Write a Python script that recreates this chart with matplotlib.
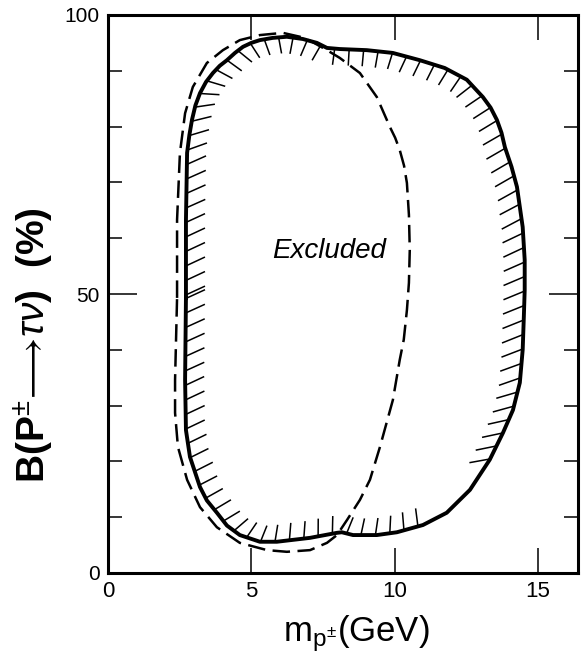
import numpy as np
import matplotlib
matplotlib.use("Agg")
import matplotlib.pyplot as plt

# ---- data (x: GeV, y: %) ----
solid_x = [2.72, 2.72, 2.76, 2.84, 2.93, 3.05, 3.21, 3.42, 3.66, 3.90, 4.15, 4.43,
           4.71, 5.00, 5.30, 5.75, 6.24, 6.80, 7.29, 7.64, 8.09, 9.03, 9.94, 10.88,
           11.75, 12.52, 13.08, 13.35, 13.57, 13.73, 13.85, 14.08, 14.27, 14.47,
           14.54, 14.54, 14.51, 14.47, 14.37, 14.13, 13.78, 13.32, 12.63, 11.82,
           10.99, 10.08, 9.38, 8.55, 8.16, 7.99, 7.05, 5.89, 5.30, 4.60, 4.15, 3.80,
           3.45, 3.21, 2.86, 2.72, 2.69]
solid_y = [49.3, 63.3, 75.3, 78.5, 81.2, 83.8, 86.0, 88.0, 89.6, 90.9, 91.9, 93.2,
           94.3, 95.0, 95.5, 95.9, 96.1, 95.7, 95.0, 94.1, 93.9, 93.7, 93.2, 91.9,
           90.5, 88.4, 85.3, 83.4, 81.2, 78.9, 76.3, 72.8, 69.2, 62.0,
           56.1, 50.7, 45.9, 40.0, 34.1, 29.2, 25.1, 20.3, 14.9, 10.8,
           8.6, 7.3, 6.8, 6.8, 7.3, 7.2, 6.3, 5.6, 5.6, 6.8, 8.5, 10.8,
           13.0, 15.4, 20.8, 25.6, 34.6]

dashed_x = [2.41, 2.41, 2.51, 2.69, 2.96, 3.45, 4.01, 4.60, 5.30, 6.10, 6.70, 7.12,
            7.64, 8.09, 8.79, 9.38, 9.84, 10.02, 10.18, 10.33, 10.43, 10.50, 10.53,
            10.50, 10.43, 10.32, 10.18, 9.94, 9.49, 9.14, 8.79, 8.34, 7.99, 7.64,
            7.05, 6.24, 5.55, 4.60, 3.80, 3.21, 2.76, 2.44, 2.34, 2.34]
dashed_y = [49.3, 63.3, 75.3, 82.4, 87.1, 91.4, 93.7, 95.5, 96.4, 96.8, 96.1, 95.2,
            93.7, 92.3, 89.6, 85.3, 79.9, 78.0, 75.8, 73.0, 69.9, 64.2, 57.9,
            52.0, 47.1, 41.8, 38.2, 31.0, 22.6, 16.7, 13.1, 9.5, 6.8, 5.4,
            4.1, 3.8, 4.1, 5.4, 8.2, 11.8, 16.7, 22.6, 28.7, 34.6]

xticks = [0, 5, 10, 15]
xtick_labels = ["0", "5", "10", "15"]
yticks = [0, 50, 100]
ytick_labels = ["0", "50", "100"]
yminor = [10, 20, 30, 40, 60, 70, 80, 90]

region_label = "Excluded"
region_label_pos = (7.7, 57.7)

# ---- style ----
plt.rcParams['font.family'] = ['Liberation Sans', 'DejaVu Sans']
plt.rcParams['mathtext.fontset'] = 'custom'
plt.rcParams['mathtext.rm'] = 'Liberation Sans'
plt.rcParams['mathtext.it'] = 'Liberation Sans:italic'
plt.rcParams['mathtext.bf'] = 'Liberation Sans:bold'

fig = plt.figure(figsize=(5.82, 6.58), dpi=100)
ax = fig.add_axes([108/582, 85/658, 470/582, 558/658])
ax.set_xlim(0, 16.4)
ax.set_ylim(0, 100)

for sp in ax.spines.values():
    sp.set_linewidth(2.2)

ax.set_xticks(xticks)
ax.set_xticklabels(xtick_labels)
ax.set_yticks(yticks)
ax.set_yticklabels(ytick_labels)
ax.set_yticks(yminor, minor=True)
ax.tick_params(axis='x', which='major', direction='in', length=18, width=1.1,
               top=True, labelsize=16, pad=6)
ax.tick_params(axis='y', which='major', direction='in', length=21, width=1.1,
               right=True, labelsize=15, pad=6)
ax.tick_params(axis='y', which='minor', direction='in', length=10, width=1.1,
               right=True)

# curves
sx = solid_x + solid_x[:1]
sy = solid_y + solid_y[:1]
ax.plot(sx, sy, color='black', lw=2.8, solid_joinstyle='round')
dx = dashed_x + dashed_x[:1]
dy = dashed_y + dashed_y[:1]
ln, = ax.plot(dx, dy, color='black', lw=1.8)
ln.set_dashes([7, 3])

# hatching along inside of solid boundary (computed in display space)
pts = ax.transData.transform(np.column_stack([sx, sy]))
seg = np.diff(pts, axis=0)
seglen = np.hypot(seg[:, 0], seg[:, 1])
cum = np.concatenate([[0], np.cumsum(seglen)])
total = cum[-1]

def point_at(s):
    s = s % total
    i = min(np.searchsorted(cum, s, side='right') - 1, len(seg) - 1)
    t = (s - cum[i]) / seglen[i]
    return pts[i] + t * seg[i]

phi_tab = [0, 20, 45, 70, 90, 110, 145, 160, 175, 190, 220, 235, 255, 265, 275,
           285, 300, 315, 330, 345, 360]
h_tab = [25, 27, 32, 55, 78, 100, 188, 194, 200, 209, 214, 232, 245, 262, 280,
         295, 312, 330, 348, 370, 385]
len_phi = [0, 90, 180, 270, 360]
len_tab = [21, 17, 23, 16, 21]

spacing = 14.5
segs = []
for s in np.arange(3, total, spacing):
    p = point_at(s)
    t = point_at(s + 8) - point_at(s - 8)
    n = np.array([t[1], -t[0]])
    phi = np.degrees(np.arctan2(n[1], n[0])) % 360
    h = np.radians(np.interp(phi, phi_tab, h_tab))
    L = np.interp(phi, len_phi, len_tab)
    q = p + L * np.array([np.cos(h), np.sin(h)])
    pd, qd = ax.transData.inverted().transform(np.vstack([p, q]))
    if 11.1 < pd[0] < 13.2 and pd[1] < 25:
        continue
    segs.append((pd, qd))
for pd, qd in segs:
    ax.plot([pd[0], qd[0]], [pd[1], qd[1]], color='black', lw=1.1,
            solid_capstyle='butt')

ax.text(region_label_pos[0], region_label_pos[1], region_label, style='italic',
        fontsize=20, ha='center', va='center')

ax.set_xlabel(r"m$_{\mathrm{p}^{\pm}}$(GeV)", fontsize=25, va='center')
ax.xaxis.set_label_coords(0.528, -0.109)
ax.set_ylabel(r"B(P$^{\pm}$$\!\longrightarrow\!$$\tau\nu$)  (%)", fontsize=28,
              va='center', fontweight='bold')
ax.yaxis.set_label_coords(-0.158, 0.409)

fig.savefig("out.png", dpi=100)
